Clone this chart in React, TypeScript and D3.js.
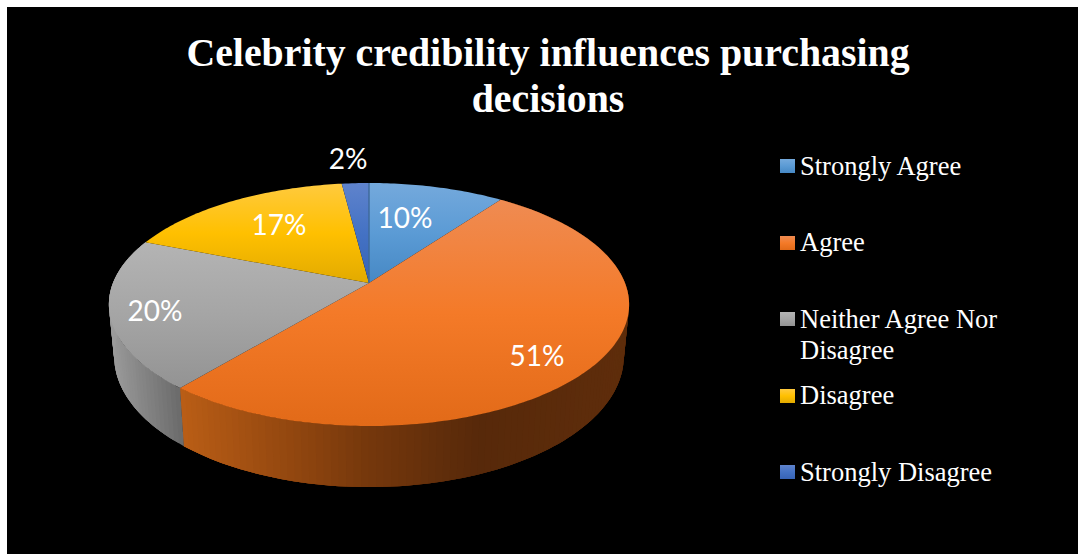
import React from "react";
import * as d3 from "d3";

const categories = ["Strongly Agree", "Agree", "Neither Agree Nor Disagree", "Disagree", "Strongly Disagree"];
const values = [10, 51, 20, 17, 2];
const titleLines = ["Celebrity credibility influences purchasing", "decisions"];
const topStops = [
  ["#74a9dc", "#5b9bd5", "#4688c4"],
  ["#ef8b52", "#f47a28", "#e26a18"],
  ["#b4b4b4", "#a5a5a5", "#939393"],
  ["#ffca3e", "#ffc000", "#e2aa00"],
  ["#5f83cc", "#4472c4", "#3763b6"],
];
const orangeSideStops: [number, string][] = [
  [184, "#bb5e16"],
  [300, "#91460f"],
  [369, "#76380c"],
  [480, "#57290a"],
  [630, "#5f2d0b"],
];
const graySideStops: [number, string][] = [
  [114, "#9c9c9c"],
  [184, "#6c6c6c"],
];
const labelPositions: [string, number, number][] = [
  ["10%", 405, 228],
  ["51%", 537, 366],
  ["20%", 155, 321],
  ["17%", 279, 235],
  ["2%", 348, 169],
];
const legendMarkerY = [159, 236, 312, 389, 465];
const legendTextY = [175, 251, 328, 404, 481];

const W = 1078, H = 554;
const cx = 369;
const top = { y0: 283, rx: 256, ry: 117.7 };
const bottom = { y0: 333, rx: 250.8, ry: 126.8 };
const k = 0.177;

const project = (d: { y0: number; rx: number; ry: number }, a: number): [number, number] => {
  const u = Math.sin(a), v = Math.cos(a);
  const s = 1 / (1 + k * v);
  return [cx + d.rx * u * s, d.y0 - d.ry * v * s];
};

const pieGen = d3.pie<number>().sort(null).startAngle(0).endAngle(2 * Math.PI);
const arcs = pieGen(values);
const lineGen = d3.line();
const colorScale = (stops: [number, string][]) =>
  d3
    .scaleLinear<string>()
    .domain(stops.map((s) => s[0]))
    .range(stops.map((s) => s[1]))
    .clamp(true);

const sampleArc = (start: number, end: number, n: number) =>
  d3.range(n + 1).map((i) => start + ((end - start) * i) / n);

const wedgePath = (start: number, end: number) => {
  const n = Math.max(8, Math.ceil((end - start) * 60));
  const pts = sampleArc(start, end, n).map((a) => project(top, a));
  return lineGen([[cx, top.y0], ...pts]) + "Z";
};

// side wall of one slice: overlapping bands swept along the visible rim
const wallBands = (start: number, end: number, n: number, stops: [number, string][]) => {
  const angles = sampleArc(start, end, n);
  const color = colorScale(stops);
  return angles.slice(0, -1).map((a, i) => {
    const arc = angles.slice(i, i + 4);
    const outline = [...arc.map((t) => project(top, t)), ...arc.slice().reverse().map((t) => project(bottom, t))];
    return { d: lineGen(outline) + "Z", fill: color(project(bottom, a)[0]) };
  });
};
const sideBands = [
  ...wallBands(arcs[1].startAngle, arcs[1].endAngle, 130, orangeSideStops),
  ...wallBands(arcs[2].startAngle, arcs[2].endAngle, 50, graySideStops),
];

export default function App() {
  const serif = "'Liberation Serif', serif";
  const sans = "Lato, 'Open Sans', sans-serif";
  return (
    <svg
      width={W}
      height={H}
      viewBox={`0 0 ${W} ${H}`}
      style={{ position: "fixed", left: 0, top: 0, display: "block", background: "#fff" }}
    >
      <defs>
        {topStops.map((st, i) => (
          <linearGradient key={i} id={`g${i}`} x1="0" y1="0" x2="0" y2="1">
            <stop offset="0" stopColor={st[0]} />
            <stop offset="0.5" stopColor={st[1]} />
            <stop offset="1" stopColor={st[2]} />
          </linearGradient>
        ))}
      </defs>
      <rect x={7} y={7} width={W - 7} height={H - 7} fill="#000" />
      {titleLines.map((t, i) => (
        <text
          key={t}
          x={548}
          y={66 + i * 46}
          textAnchor="middle"
          fill="#fff"
          fontFamily={serif}
          fontWeight="bold"
          fontSize={39.85}
        >
          {t}
        </text>
      ))}
      <g>
        {sideBands.map((q, i) => (
          <path key={i} d={q.d} fill={q.fill} />
        ))}
      </g>
      {arcs.map((a, i) => (
        <path key={i} d={wedgePath(a.startAngle, a.endAngle)} fill={`url(#g${i})`} />
      ))}
      <line x1={cx} y1={top.y0} x2={cx} y2={top.y0 - 100} stroke="#3f6a9b" strokeWidth={1.5} />
      {labelPositions.map(([t, x, y]) => (
        <text key={t} x={x} y={y} textAnchor="middle" fill="#fff" fontFamily={sans} fontSize={28}>
          {t}
        </text>
      ))}
      {categories.map((c, i) => {
        const words = c === "Neither Agree Nor Disagree" ? ["Neither Agree Nor", "Disagree"] : [c];
        return (
          <g key={c}>
            <rect x={780} y={legendMarkerY[i]} width={15} height={14} fill={`url(#g${i})`} />
            {words.map((w, j) => (
              <text key={w} x={800} y={legendTextY[i] + j * 31} fill="#fff" fontFamily={serif} fontSize={26.5}>
                {w}
              </text>
            ))}
          </g>
        );
      })}
    </svg>
  );
}
